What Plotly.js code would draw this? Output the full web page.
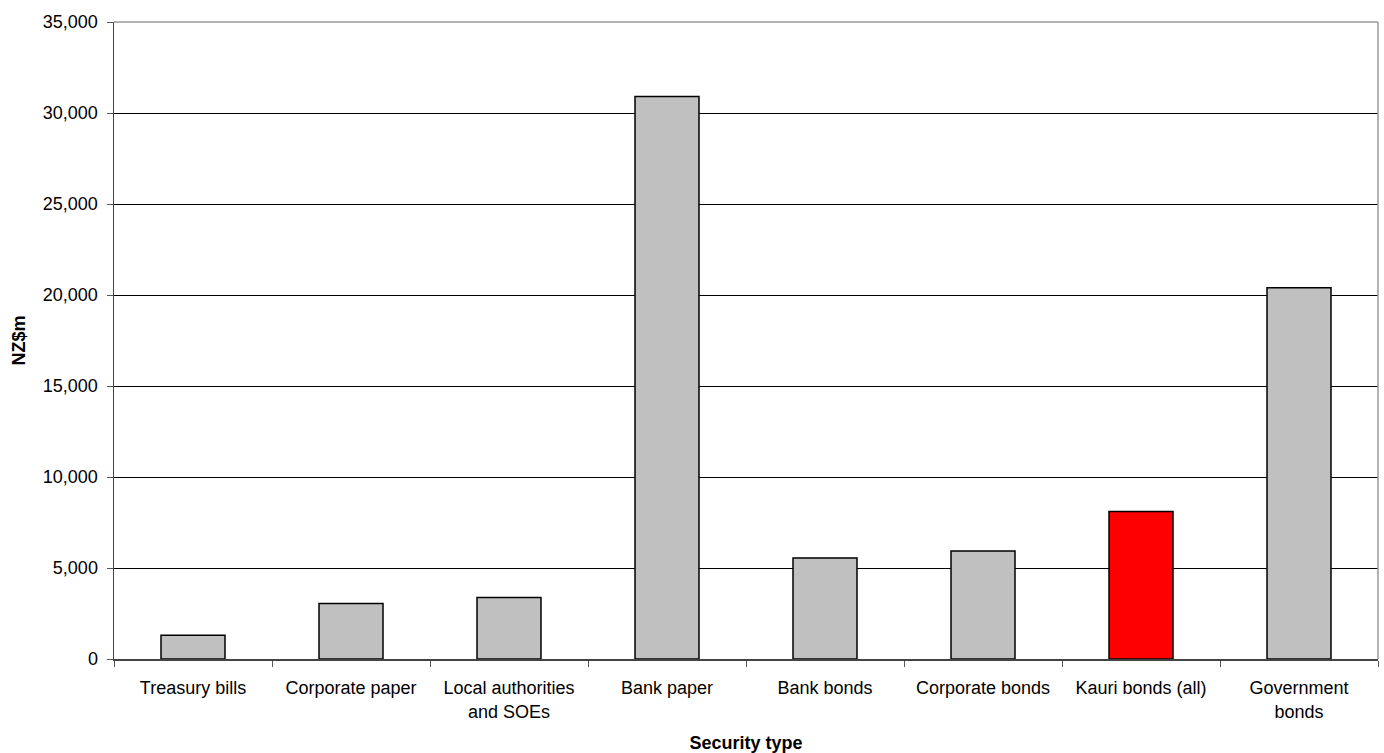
<!DOCTYPE html>
<html>
<head>
<meta charset="utf-8">
<script src="https://cdn.plot.ly/plotly-3.0.1.min.js"></script>
<style>html,body{margin:0;padding:0;background:#fff;}#chart{width:1384px;height:753px;}</style>
</head>
<body>
<div id="chart"></div>
<script>
const categories = ["Treasury bills", "Corporate paper", "Local authorities<br>and SOEs", "Bank paper", "Bank bonds", "Corporate bonds", "Kauri bonds (all)", "Government<br>bonds"];
const values = [1300, 3050, 3380, 30900, 5550, 5930, 8100, 20400];
const barColors = ["#c0c0c0", "#c0c0c0", "#c0c0c0", "#c0c0c0", "#c0c0c0", "#c0c0c0", "#ff0000", "#c0c0c0"];
const yTicks = [0, 5000, 10000, 15000, 20000, 25000, 30000, 35000];

const trace = {
  type: "bar",
  x: categories,
  y: values,
  marker: {color: barColors, line: {color: "#000000", width: 1.5}},
  hoverinfo: "x+y"
};

const layout = {
  width: 1384, height: 753,
  margin: {l: 114, r: 6, t: 22, b: 94},
  paper_bgcolor: "#ffffff", plot_bgcolor: "#ffffff",
  font: {family: "Liberation Sans, Arial, sans-serif", size: 18, color: "#000"},
  bargap: 0.595,
  showlegend: false,
  xaxis: {
    type: "category",
    tickson: "boundaries",
    ticks: "outside", ticklen: 6, tickcolor: "#555",
    ticklabelstandoff: 12,
    showline: true, linecolor: "#444", linewidth: 1.5,
    showgrid: false,
    automargin: false,
    tickfont: {size: 18},
    title: {text: "<b>Security type</b>", font: {size: 18}, standoff: 16}
  },
  yaxis: {
    range: [0, 35000],
    tickvals: yTicks,
    tickformat: ",d",
    ticks: "outside", ticklen: 6, tickcolor: "#555",
    ticklabelstandoff: 5,
    showline: true, linecolor: "#444", linewidth: 1.5,
    showgrid: true, gridcolor: "#000", gridwidth: 1,
    zeroline: false,
    automargin: false,
    tickfont: {size: 18},
    title: {text: "<b>NZ$m</b>", font: {size: 18}, standoff: 12}
  },
  shapes: [
    {type: "line", xref: "paper", yref: "paper", x0: 1, x1: 1, y0: 0, y1: 1, line: {color: "#999", width: 1.5}},
    {type: "line", xref: "paper", yref: "paper", x0: 0, x1: 1, y0: 1, y1: 1, line: {color: "#999", width: 1.5}}
  ]
};

Plotly.newPlot("chart", [trace], layout, {displayModeBar: false, staticPlot: true});
</script>
</body>
</html>
